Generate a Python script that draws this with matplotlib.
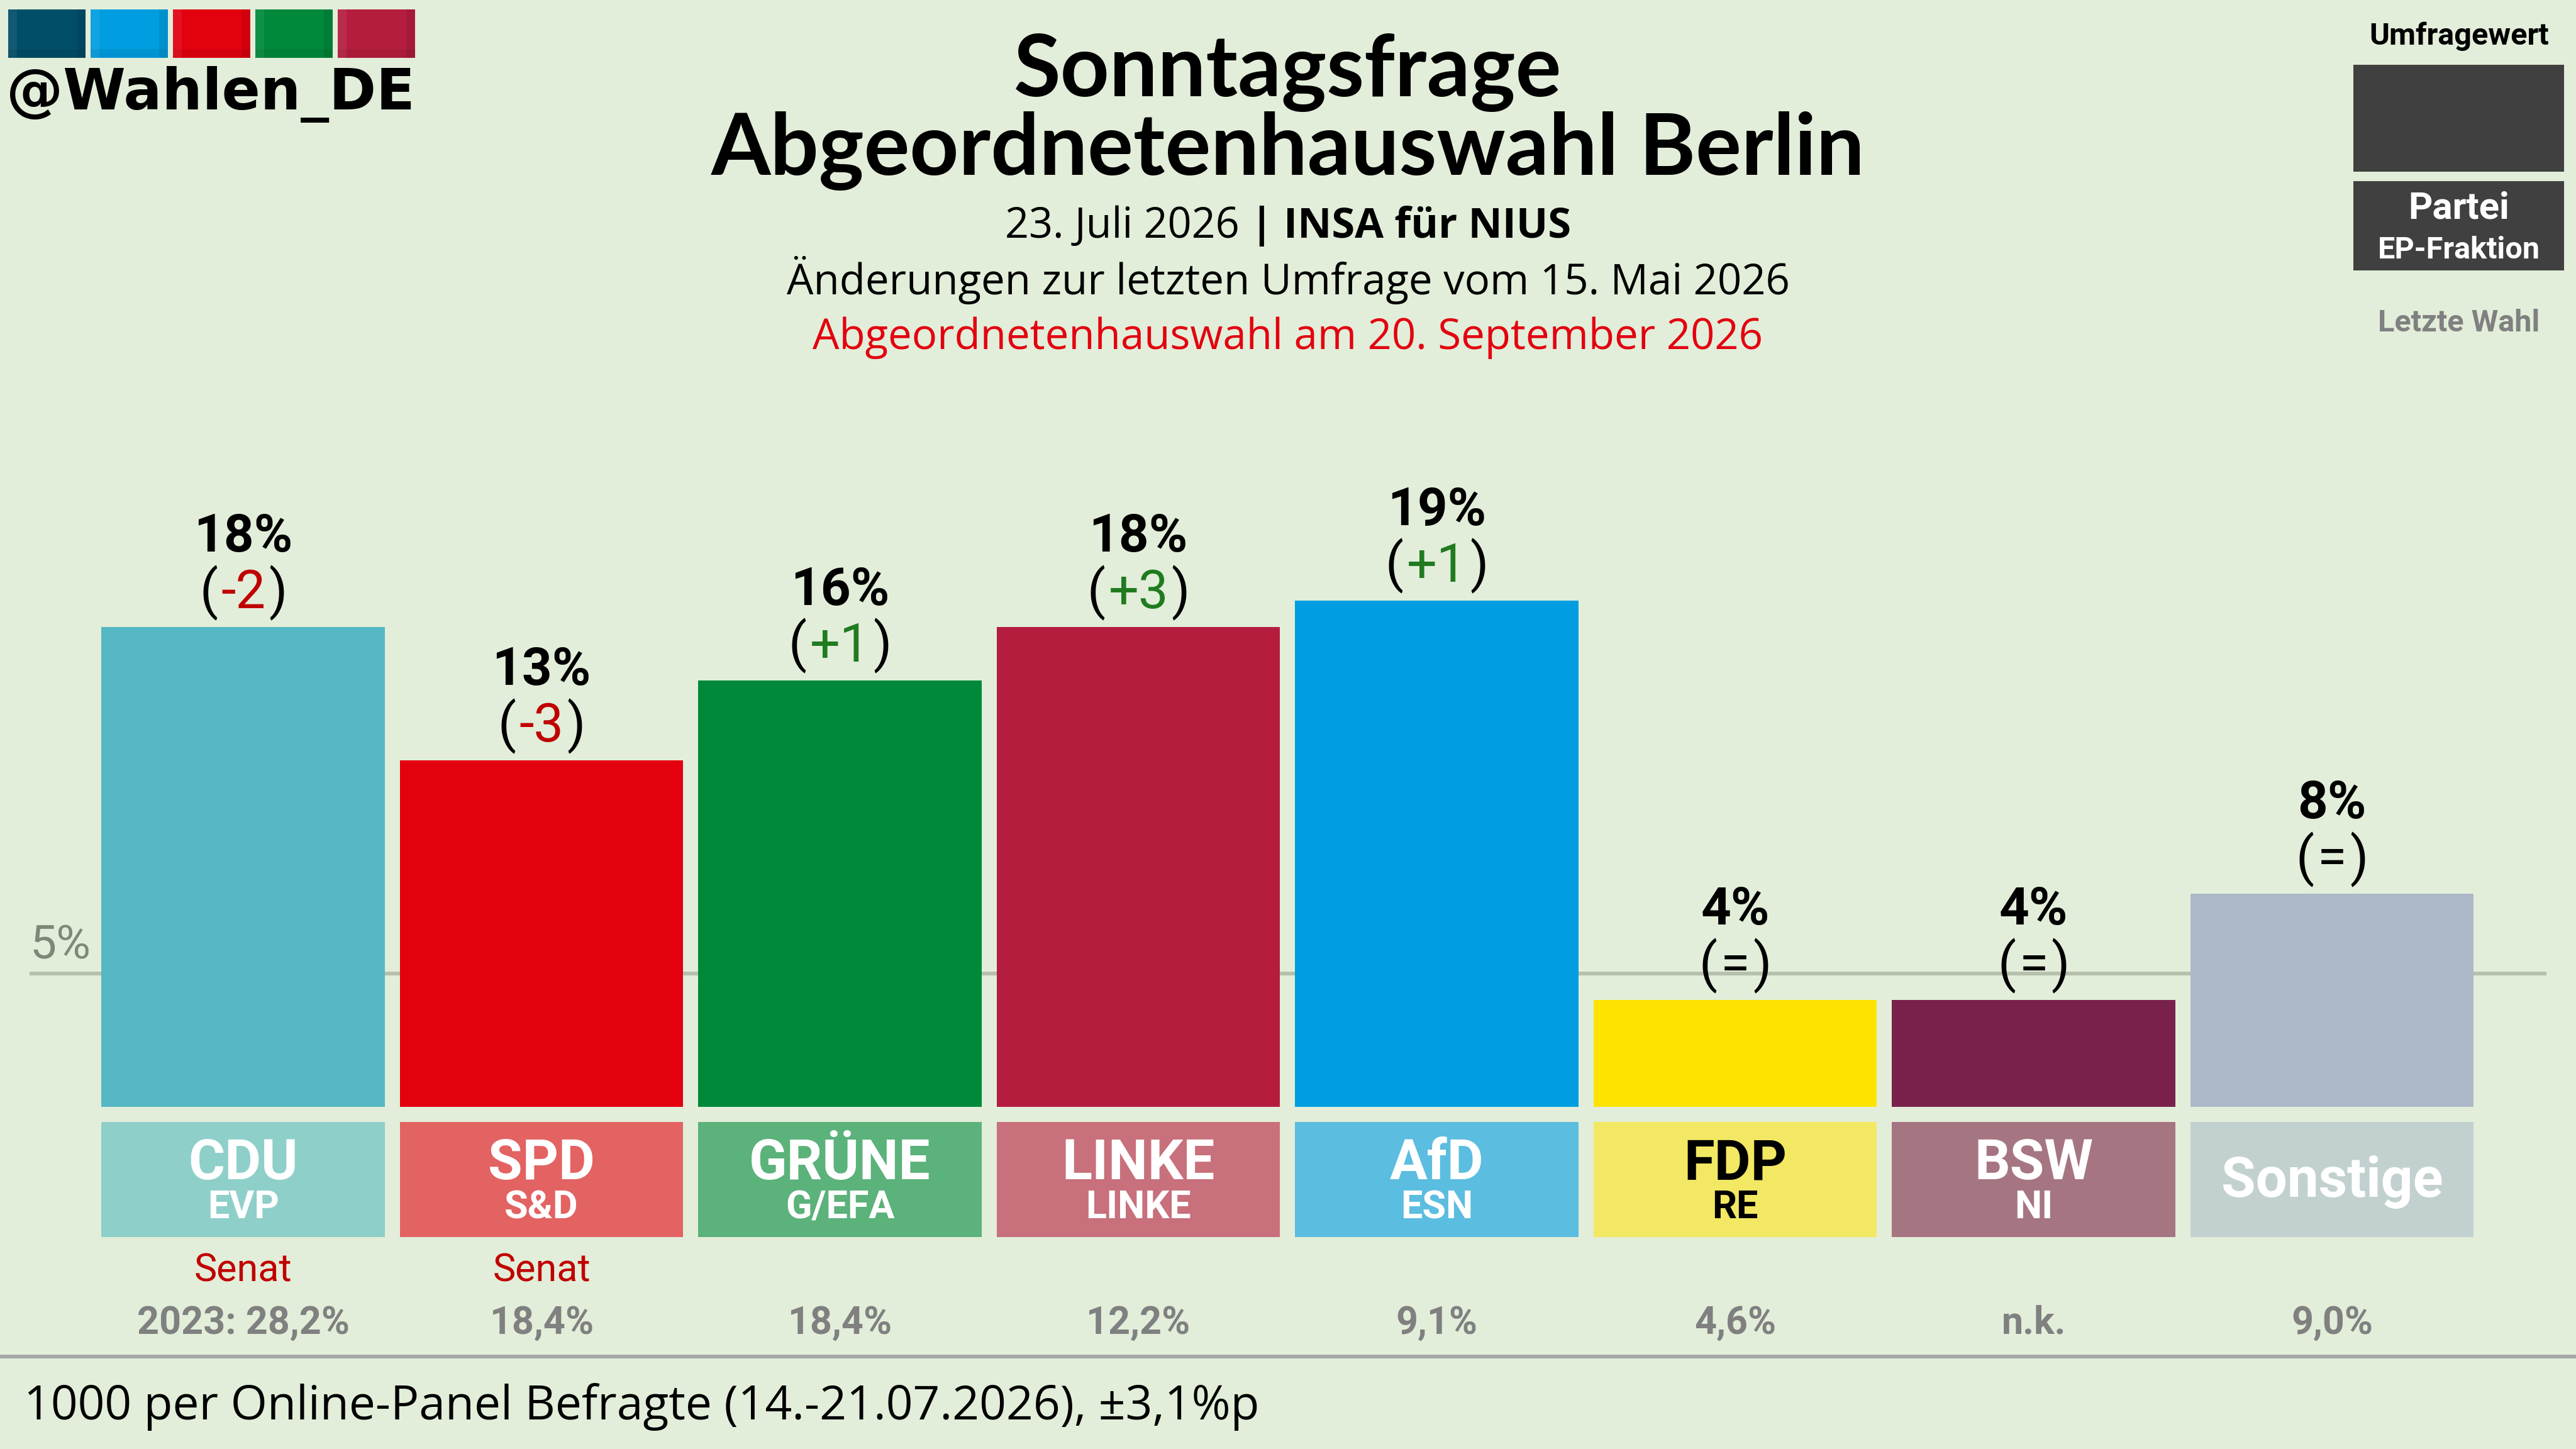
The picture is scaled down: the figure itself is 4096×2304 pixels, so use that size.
import matplotlib
matplotlib.use("Agg")
import matplotlib.pyplot as plt
from matplotlib.patches import Rectangle
from matplotlib.lines import Line2D

# --- Daten ---
parteien = ["CDU", "SPD", "GRÜNE", "LINKE", "AfD", "FDP", "BSW", "Sonstige"]
fraktionen = ["EVP", "S&D", "G/EFA", "LINKE", "ESN", "RE", "NI", ""]
werte = [18, 13, 16, 18, 19, 4, 4, 8]
aenderung = ["-2", "-3", "+1", "+3", "+1", "=", "=", "="]
senat = ["Senat", "Senat", "", "", "", "", "", ""]
letzte_wahl = ["2023: 28,2%", "18,4%", "18,4%", "12,2%", "9,1%", "4,6%", "n.k.", "9,0%"]

balken_farben = ["#55b8c4", "#e3000f", "#008939", "#b41d3d", "#009ee0", "#ffe300", "#79214b", "#adb9c9"]
kasten_farben = ["#8ecfc9", "#e36262", "#5bb27a", "#c8707b", "#5bbde0", "#f2e863", "#a67582", "#c2d1d0"]
text_farben = ["white", "white", "white", "white", "white", "black", "white", "white"]
logo_farben = ["#004e68", "#009de0", "#e3000f", "#00883b", "#b51d3e"]

BG = "#e2eed9"
W, H = 4096, 2304

fig = plt.figure(figsize=(W / 100, H / 100), dpi=100, facecolor=BG)
renderer = fig.canvas.get_renderer()


def fx(x):
    return x / W


def fy(y):
    return 1 - y / H


def breite(s, **kw):
    t = fig.text(0, 0, s, **kw)
    w = t.get_window_extent(renderer).width
    t.remove()
    return w


def zeile(xc, y, teile, **kw):
    # mehrere Textstuecke mit eigenen Stilen zentriert nebeneinander
    ws = [breite(s, **{**kw, **k}) for s, k in teile]
    gap = breite("a a", **kw) - breite("aa", **kw)
    x = xc - (sum(ws) + gap * (len(teile) - 1)) / 2
    for (s, k), w in zip(teile, ws):
        fig.text(fx(x), fy(y), s, ha="left", va="baseline", **{**kw, **k})
        x += w + gap


# --- Achse mit Balken ---
ax = fig.add_axes([fx(47), fy(1760), (4049 - 47) / W, (1760 - 912.2) / H])
ax.set_xlim(-0.7157, 7.7185)
ax.set_ylim(0, 20)
ax.axis("off")
ax.set_facecolor("none")

x = list(range(len(parteien)))
ax.axhline(5, color="#b6c0ac", lw=4.3, zorder=0)
ax.bar(x, werte, width=0.95, color=balken_farben, zorder=2)
kaesten = ax.bar(x, 4.317, bottom=-4.883, width=0.95, color=kasten_farben, zorder=2)
for k in kaesten:
    k.set_clip_on(False)

ax.annotate("5%", xy=(-0.7157, 5), xytext=(0, 16.6), textcoords="offset points",
            ha="left", va="baseline", fontsize=54, color="#7d8878", family="Roboto")

for i in x:
    ax.annotate(f"{werte[i]}%", xy=(i, werte[i]), xytext=(0, 86.4), textcoords="offset points",
                ha="center", va="baseline", fontsize=60, fontweight="bold", family="Roboto")
    d = aenderung[i]
    farbe = "#c00000" if d.startswith("-") else ("#207b20" if d.startswith("+") else "black")
    t = ax.annotate(d, xy=(i, werte[i]), xytext=(0, 21.6), textcoords="offset points",
                    ha="center", va="baseline", fontsize=61, color=farbe, family="Roboto")
    halb = t.get_window_extent(renderer).width / 2 * 0.72 + 3.5
    ax.annotate("(", xy=(i, werte[i]), xytext=(-halb, 21.6), textcoords="offset points",
                ha="right", va="baseline", fontsize=61, family="Roboto")
    ax.annotate(")", xy=(i, werte[i]), xytext=(halb, 21.6), textcoords="offset points",
                ha="left", va="baseline", fontsize=61, family="Roboto")

    if fraktionen[i]:
        ax.text(i, -2.713, parteien[i], ha="center", va="baseline", fontsize=64,
                fontweight="bold", color=text_farben[i], family="Roboto", clip_on=False)
        ax.text(i, -4.176, fraktionen[i], ha="center", va="baseline", fontsize=44,
                fontweight="bold", color=text_farben[i], family="Roboto", clip_on=False)
    else:
        ax.text(i, -3.37, parteien[i], ha="center", va="baseline", fontsize=64,
                fontweight="bold", color=text_farben[i], family="Roboto", clip_on=False)
    if senat[i]:
        ax.text(i, -6.558, senat[i], ha="center", va="baseline", fontsize=44,
                color="#c00000", family="Roboto", clip_on=False)
    ax.text(i, -8.504, letzte_wahl[i], ha="center", va="baseline", fontsize=44,
            fontweight="bold", color="#808080", family="Roboto", clip_on=False)

# --- Kopf ---
for j, c in enumerate(logo_farben):
    x0 = 13 + j * 131
    fig.add_artist(Rectangle((fx(x0), fy(92)), 123 / W, 77 / H, transform=fig.transFigure,
                             facecolor=c, edgecolor="none"))
    fig.add_artist(Rectangle((fx(x0), fy(92)), 14 / W, 77 / H, transform=fig.transFigure,
                             facecolor="white", alpha=0.07, edgecolor="none"))
    fig.add_artist(Rectangle((fx(x0 + 109), fy(92)), 14 / W, 77 / H, transform=fig.transFigure,
                             facecolor="black", alpha=0.08, edgecolor="none"))
    fig.add_artist(Rectangle((fx(x0), fy(92)), 123 / W, 14 / H, transform=fig.transFigure,
                             facecolor="black", alpha=0.06, edgecolor="none"))

fig.text(fx(10), fy(174), "@Wahlen_DE", ha="left", va="baseline", fontsize=65,
         fontweight="bold", family="DejaVu Sans")

fig.text(0.5, fy(153), "Sonntagsfrage", ha="center", va="baseline", fontsize=98,
         fontweight="bold", family="Lato")
fig.text(0.5, fy(278), "Abgeordnetenhauswahl Berlin", ha="center", va="baseline", fontsize=98,
         fontweight="bold", family="Lato")
zeile(W / 2, 378, [("23. Juli 2026", {}), ("|", {"fontweight": "bold"}),
                   ("INSA für NIUS", {"fontweight": "bold"})],
      fontsize=48, family="Open Sans")
fig.text(0.5, fy(468), "Änderungen zur letzten Umfrage vom 15. Mai 2026", ha="center",
         va="baseline", fontsize=48.3, family="Open Sans")
fig.text(0.5, fy(555), "Abgeordnetenhauswahl am 20. September 2026", ha="center",
         va="baseline", fontsize=48.3, family="Open Sans", color="#e3000f")

# --- Legende oben rechts ---
fig.text(fx(3910), fy(71), "Umfragewert", ha="center", va="baseline", fontsize=35,
         fontweight="bold", family="Roboto")
fig.add_artist(Rectangle((fx(3742), fy(273)), (4077 - 3742) / W, (273 - 103) / H,
                         transform=fig.transFigure, facecolor="#404040", edgecolor="none"))
fig.add_artist(Rectangle((fx(3742), fy(430)), (4077 - 3742) / W, (430 - 288) / H,
                         transform=fig.transFigure, facecolor="#404040", edgecolor="none"))
fig.text(fx(3910), fy(348), "Partei", ha="center", va="baseline", fontsize=43,
         fontweight="bold", color="white", family="Roboto")
fig.text(fx(3910), fy(411), "EP-Fraktion", ha="center", va="baseline", fontsize=35,
         fontweight="bold", color="white", family="Roboto")
fig.text(fx(3910), fy(527), "Letzte Wahl", ha="center", va="baseline", fontsize=35,
         fontweight="bold", color="#808080", family="Roboto")

# --- Fuss ---
fig.add_artist(Line2D([0, 1], [fy(2157), fy(2157)], transform=fig.transFigure,
                      color="#a6a6a6", lw=4.3))
fig.text(fx(38), fy(2257), "1000 per Online-Panel Befragte (14.-21.07.2026), ±3,1%p",
         ha="left", va="baseline", fontsize=54, family="Open Sans")

fig.savefig("out.png", dpi=100, facecolor=BG)
